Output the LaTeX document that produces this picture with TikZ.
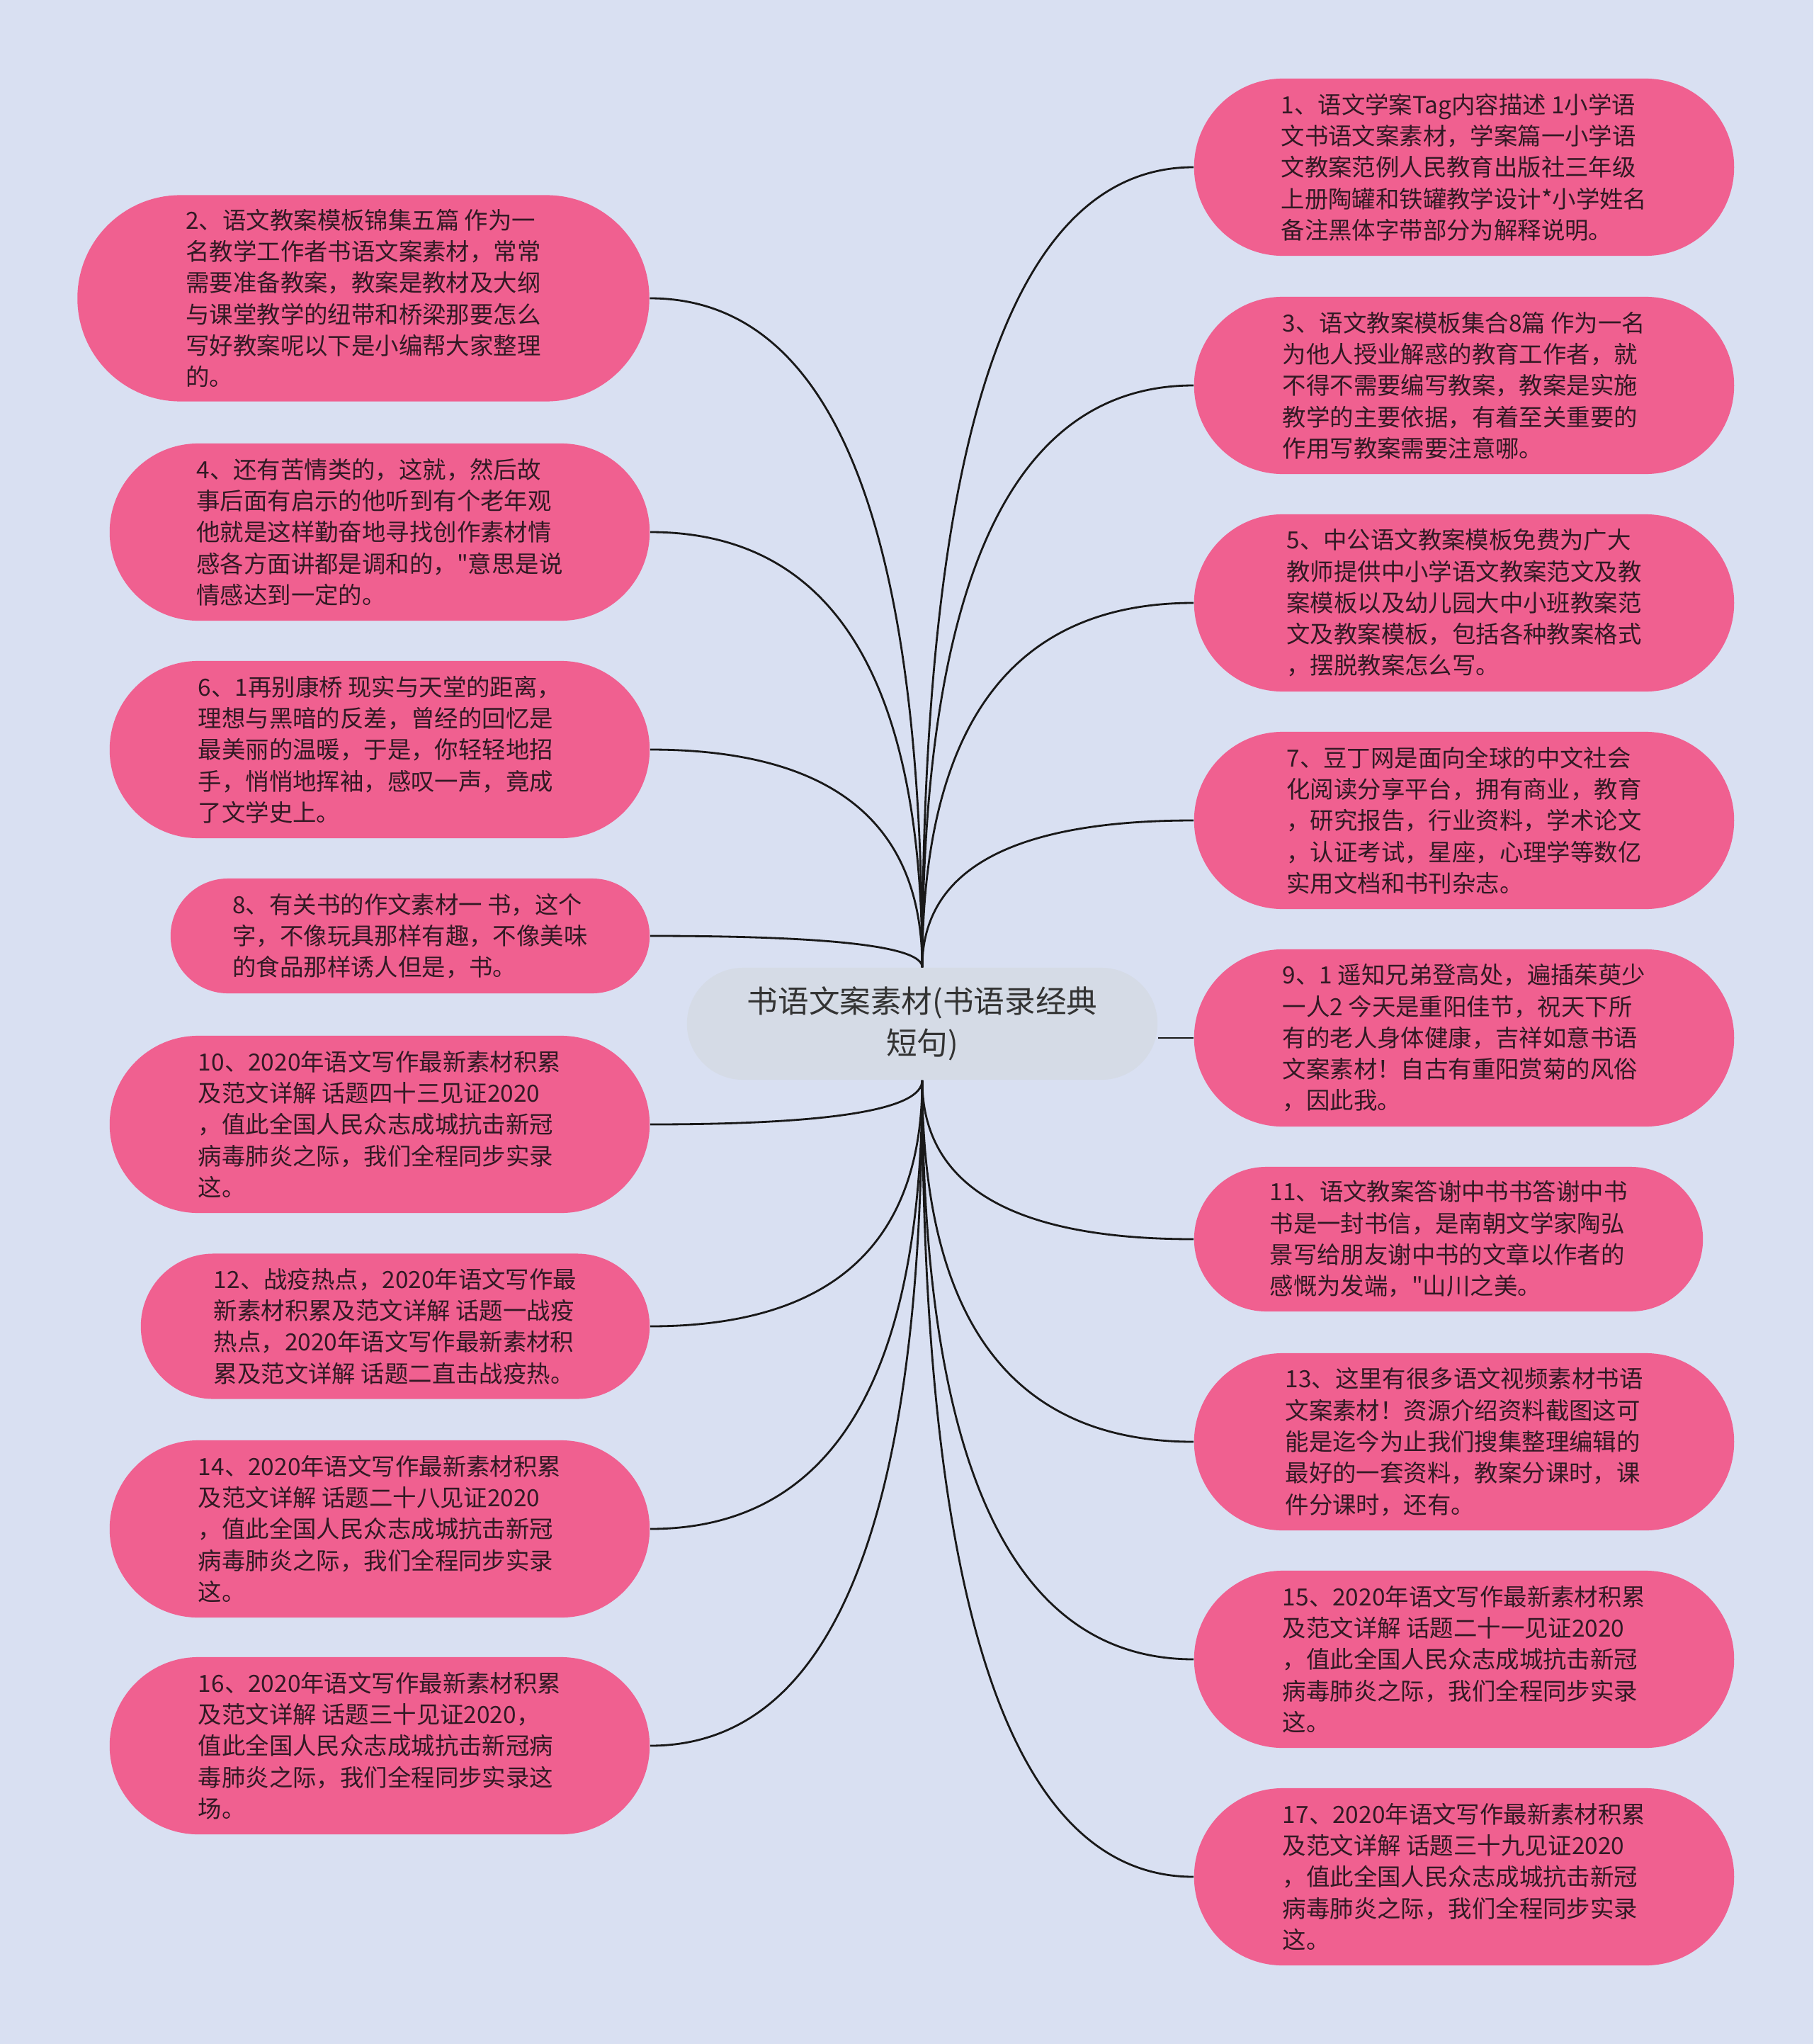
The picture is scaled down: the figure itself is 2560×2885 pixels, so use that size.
\documentclass[tikz,border=0pt]{standalone}
\usepackage{fontspec}
\newfontfamily\cjk{Noto Sans CJK SC}
\usetikzlibrary{shapes.misc,calc}
\definecolor{bgblue}{RGB}{217,224,242}
\definecolor{leafpink}{RGB}{240,96,144}
\definecolor{rootgray}{RGB}{213,219,230}
\definecolor{inkdark}{RGB}{50,25,36}

\begin{document}
\begin{tikzpicture}[x=0.01cm, y=-0.01cm,
  leaf/.style={rounded rectangle, fill=leafpink, text=inkdark, inner sep=0pt, align=left,
    font=\cjk\fontsize{9.5}{12.6}\selectfont, minimum width=7.62cm, minimum height=2.5cm},
  root/.style={rounded rectangle, fill=rootgray, text=black!80, inner sep=0pt, align=center,
    font=\cjk\fontsize{12.4}{16.7}\selectfont, minimum width=6.64cm, minimum height=1.58cm},
  link/.style={line width=0.8pt, black!90}]
\useasboundingbox (0,0) rectangle (2560,2885);
\fill[bgblue] (0,0) rectangle (2560,2885);

\node[root] (root) at (1302,1445) {书语文案素材(书语录经典\\短句)};

% left column
\node[leaf, minimum width=8.07cm, minimum height=2.91cm] (n2) at (513,421) {2、语文教案模板锦集五篇 作为一\\名教学工作者书语文案素材，常常\\需要准备教案，教案是教材及大纲\\与课堂教学的纽带和桥梁那要怎么\\写好教案呢以下是小编帮大家整理\\的。};
\node[leaf] (n4) at (536,751) {4、还有苦情类的，这就，然后故\\事后面有启示的他听到有个老年观\\他就是这样勤奋地寻找创作素材情\\感各方面讲都是调和的，"意思是说\\情感达到一定的。};
\node[leaf] (n6) at (536,1058) {6、1再别康桥 现实与天堂的距离，\\理想与黑暗的反差，曾经的回忆是\\最美丽的温暖，于是，你轻轻地招\\手，悄悄地挥袖，感叹一声，竟成\\了文学史上。};
\node[leaf, minimum width=6.76cm, minimum height=1.62cm] (n8) at (579,1321) {8、有关书的作文素材一 书，这个\\字，不像玩具那样有趣，不像美味\\的食品那样诱人但是，书。};
\node[leaf] (n10) at (536,1587) {10、2020年语文写作最新素材积累\\及范文详解 话题四十三见证2020\\，值此全国人民众志成城抗击新冠\\病毒肺炎之际，我们全程同步实录\\这。};
\node[leaf, minimum width=7.18cm, minimum height=2.05cm] (n12) at (558,1872) {12、战疫热点，2020年语文写作最\\新素材积累及范文详解 话题一战疫\\热点，2020年语文写作最新素材积\\累及范文详解 话题二直击战疫热。};
\node[leaf] (n14) at (536,2158) {14、2020年语文写作最新素材积累\\及范文详解 话题二十八见证2020\\，值此全国人民众志成城抗击新冠\\病毒肺炎之际，我们全程同步实录\\这。};
\node[leaf] (n16) at (536,2464) {16、2020年语文写作最新素材积累\\及范文详解 话题三十见证2020，\\值此全国人民众志成城抗击新冠病\\毒肺炎之际，我们全程同步实录这\\场。};

% right column
\node[leaf] (n1) at (2067,236) {1、语文学案Tag内容描述 1小学语\\文书语文案素材，学案篇一小学语\\文教案范例人民教育出版社三年级\\上册陶罐和铁罐教学设计*小学姓名\\备注黑体字带部分为解释说明。};
\node[leaf] (n3) at (2067,544) {3、语文教案模板集合8篇 作为一名\\为他人授业解惑的教育工作者，就\\不得不需要编写教案，教案是实施\\教学的主要依据，有着至关重要的\\作用写教案需要注意哪。};
\node[leaf] (n5) at (2067,851) {5、中公语文教案模板免费为广大\\教师提供中小学语文教案范文及教\\案模板以及幼儿园大中小班教案范\\文及教案模板，包括各种教案格式\\，摆脱教案怎么写。};
\node[leaf] (n7) at (2067,1158) {7、豆丁网是面向全球的中文社会\\化阅读分享平台，拥有商业，教育\\，研究报告，行业资料，学术论文\\，认证考试，星座，心理学等数亿\\实用文档和书刊杂志。};
\node[leaf] (n9) at (2067,1465) {9、1 遥知兄弟登高处，遍插茱萸少\\一人2 今天是重阳佳节，祝天下所\\有的老人身体健康，吉祥如意书语\\文案素材！自古有重阳赏菊的风俗\\，因此我。};
\node[leaf, minimum width=7.18cm, minimum height=2.04cm] (n11) at (2045,1749) {11、语文教案答谢中书书答谢中书\\书是一封书信，是南朝文学家陶弘\\景写给朋友谢中书的文章以作者的\\感慨为发端，"山川之美。};
\node[leaf] (n13) at (2067,2035) {13、这里有很多语文视频素材书语\\文案素材！资源介绍资料截图这可\\能是迄今为止我们搜集整理编辑的\\最好的一套资料，教案分课时，课\\件分课时，还有。};
\node[leaf] (n15) at (2067,2342) {15、2020年语文写作最新素材积累\\及范文详解 话题二十一见证2020\\，值此全国人民众志成城抗击新冠\\病毒肺炎之际，我们全程同步实录\\这。};
\node[leaf] (n17) at (2067,2649) {17、2020年语文写作最新素材积累\\及范文详解 话题三十九见证2020\\，值此全国人民众志成城抗击新冠\\病毒肺炎之际，我们全程同步实录\\这。};

% connectors (quadratic bends)
\foreach \n in {n2,n4,n6,n8} \draw[link] (root.north) .. controls ($(root.north)!0.667!(root.north |- \n.east)$) and ($(\n.east)!0.667!(root.north |- \n.east)$) .. (\n.east);
\foreach \n in {n10,n12,n14,n16} \draw[link] (root.south) .. controls ($(root.south)!0.667!(root.south |- \n.east)$) and ($(\n.east)!0.667!(root.south |- \n.east)$) .. (\n.east);
\foreach \n in {n1,n3,n5,n7} \draw[link] (root.north) .. controls ($(root.north)!0.667!(root.north |- \n.west)$) and ($(\n.west)!0.667!(root.north |- \n.west)$) .. (\n.west);
\foreach \n in {n11,n13,n15,n17} \draw[link] (root.south) .. controls ($(root.south)!0.667!(root.south |- \n.west)$) and ($(\n.west)!0.667!(root.south |- \n.west)$) .. (\n.west);
\draw[link] (n9.west -| root.east) -- (n9.west);
\end{tikzpicture}
\end{document}
